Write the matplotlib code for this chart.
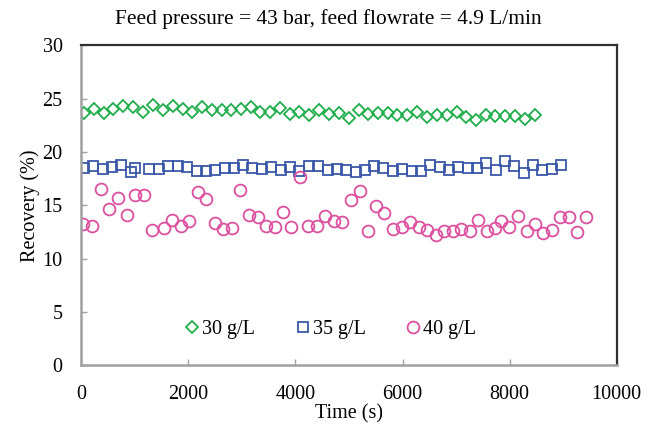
import matplotlib
matplotlib.use("Agg")
import matplotlib.pyplot as plt

plt.rcParams['font.family'] = ['Liberation Serif', 'DejaVu Serif']

# Recovery at 30 g/L
time_30 = [50, 237, 418, 598, 785, 972, 1158, 1339, 1526, 1707, 1894, 2073, 2254, 2441,
           2622, 2802, 2983, 3164, 3344, 3524, 3711, 3892, 4072, 4259, 4440, 4621, 4807,
           4994, 5181, 5361, 5542, 5723, 5902, 6089, 6276, 6457, 6638, 6825, 7012, 7185,
           7372, 7553, 7733, 7919, 8100, 8287, 8474]
rec_30 = [23.70, 24.01, 23.70, 24.08, 24.33, 24.20, 23.76, 24.46, 23.92, 24.33, 24.08,
          23.80, 24.26, 23.92, 23.92, 23.92, 24.01, 24.20, 23.80, 23.80, 24.16, 23.58,
          23.80, 23.49, 23.92, 23.55, 23.64, 23.17, 23.92, 23.55, 23.70, 23.70, 23.49,
          23.49, 23.73, 23.27, 23.49, 23.49, 23.80, 23.33, 23.02, 23.52, 23.39, 23.42,
          23.39, 23.08, 23.52]

# Recovery at 35 g/L
time_35 = [50, 225, 399, 573, 747, 922, 1003, 1270, 1446, 1625, 1801, 1974, 2155, 2323,
           2503, 2678, 2852, 3026, 3194, 3375, 3549, 3724, 3898, 4072, 4247, 4421, 4602,
           4776, 4950, 5125, 5299, 5467, 5641, 5816, 5996, 6171, 6345, 6519, 6694, 6868,
           7042, 7217, 7391, 7565, 7740, 7914, 8088, 8263, 8437, 8610, 8786, 8960]
rec_35 = [18.49, 18.67, 18.45, 18.61, 18.77, 18.17, 18.55, 18.45, 18.45, 18.70, 18.70,
          18.58, 18.27, 18.20, 18.33, 18.49, 18.49, 18.83, 18.52, 18.42, 18.58, 18.30,
          18.58, 18.27, 18.70, 18.73, 18.36, 18.42, 18.33, 18.14, 18.33, 18.67, 18.55,
          18.27, 18.42, 18.24, 18.24, 18.80, 18.58, 18.33, 18.61, 18.49, 18.55, 18.95,
          18.33, 19.17, 18.70, 18.02, 18.83, 18.33, 18.42, 18.83]

# Recovery at 40 g/L
time_40 = [37, 205, 368, 523, 691, 848, 1009, 1171, 1326, 1539, 1694, 1857, 2017, 2174,
           2329, 2491, 2652, 2815, 2970, 3132, 3295, 3450, 3612, 3767, 3922, 4085, 4234,
           4402, 4557, 4714, 4875, 5037, 5200, 5349, 5504, 5659, 5816, 5984, 6139, 6302,
           6457, 6619, 6774, 6937, 7098, 7254, 7409, 7572, 7733, 7833, 7994, 8156, 8319,
           8474, 8624, 8792, 8941, 9103, 9264, 9421]
rec_40 = [13.27, 13.11, 16.55, 14.67, 15.67, 14.14, 15.99, 15.99, 12.70, 12.92, 13.64,
          13.08, 13.52, 16.27, 15.61, 13.39, 12.80, 12.86, 16.49, 14.11, 13.89, 13.11,
          12.95, 14.36, 13.02, 17.70, 13.11, 13.05, 13.99, 13.55, 13.42, 15.52, 16.33,
          12.64, 14.95, 14.27, 12.77, 12.95, 13.49, 12.95, 12.70, 12.27, 12.61, 12.64,
          12.80, 12.61, 13.64, 12.58, 12.89, 13.55, 13.02, 13.99, 12.61, 13.30, 12.45,
          12.74, 13.89, 13.95, 12.52, 13.89]

green = '#1fae4b'
blue = '#3a57a8'
pink = '#dd4f9f'
fs = 14.5

fig = plt.figure(figsize=(6.56, 4.33), dpi=100)
ax = fig.add_axes([0.124, 0.156, 0.816, 0.739])

ax.plot(time_30, rec_30, 'D', ms=5.8, mfc='none', mec=green, mew=1.3, ls='none', label='30 g/L')
ax.plot(time_35, rec_35, 's', ms=6.8, mfc='none', mec=blue, mew=1.3, ls='none', label='35 g/L')
ax.plot(time_40, rec_40, 'o', ms=8.5, mfc='none', mec=pink, mew=1.3, ls='none', label='40 g/L')

ax.set_xlim(0, 10000)
ax.set_ylim(0, 30)
ax.set_xticks(range(0, 10001, 2000))
ax.set_yticks(range(0, 31, 5))
ax.tick_params(direction='in', length=4, width=1, color='#a0a0a0', labelsize=fs)
ax.tick_params(axis='x', pad=14)
ax.tick_params(axis='y', pad=13.5)

for side in ['left', 'bottom']:
    ax.spines[side].set_color('#a0a0a0')
    ax.spines[side].set_linewidth(1.8)
for side in ['top', 'right']:
    ax.spines[side].set_color('#303030')
    ax.spines[side].set_linewidth(1.6)

ax.set_xlabel('Time (s)', fontsize=fs, labelpad=0)
ax.set_ylabel('Recovery (%)', fontsize=fs, labelpad=2)
fig.suptitle('Feed pressure = 43 bar, feed flowrate = 4.9 L/min', fontsize=15.4,
             x=0.5, y=0.957, va='center')

ax.legend(loc='center', bbox_to_anchor=(0.463, 0.1125), ncol=3, frameon=False, fontsize=fs,
          handletextpad=0.0, columnspacing=1.85, handlelength=1.0)

fig.savefig('out.png', dpi=100)
